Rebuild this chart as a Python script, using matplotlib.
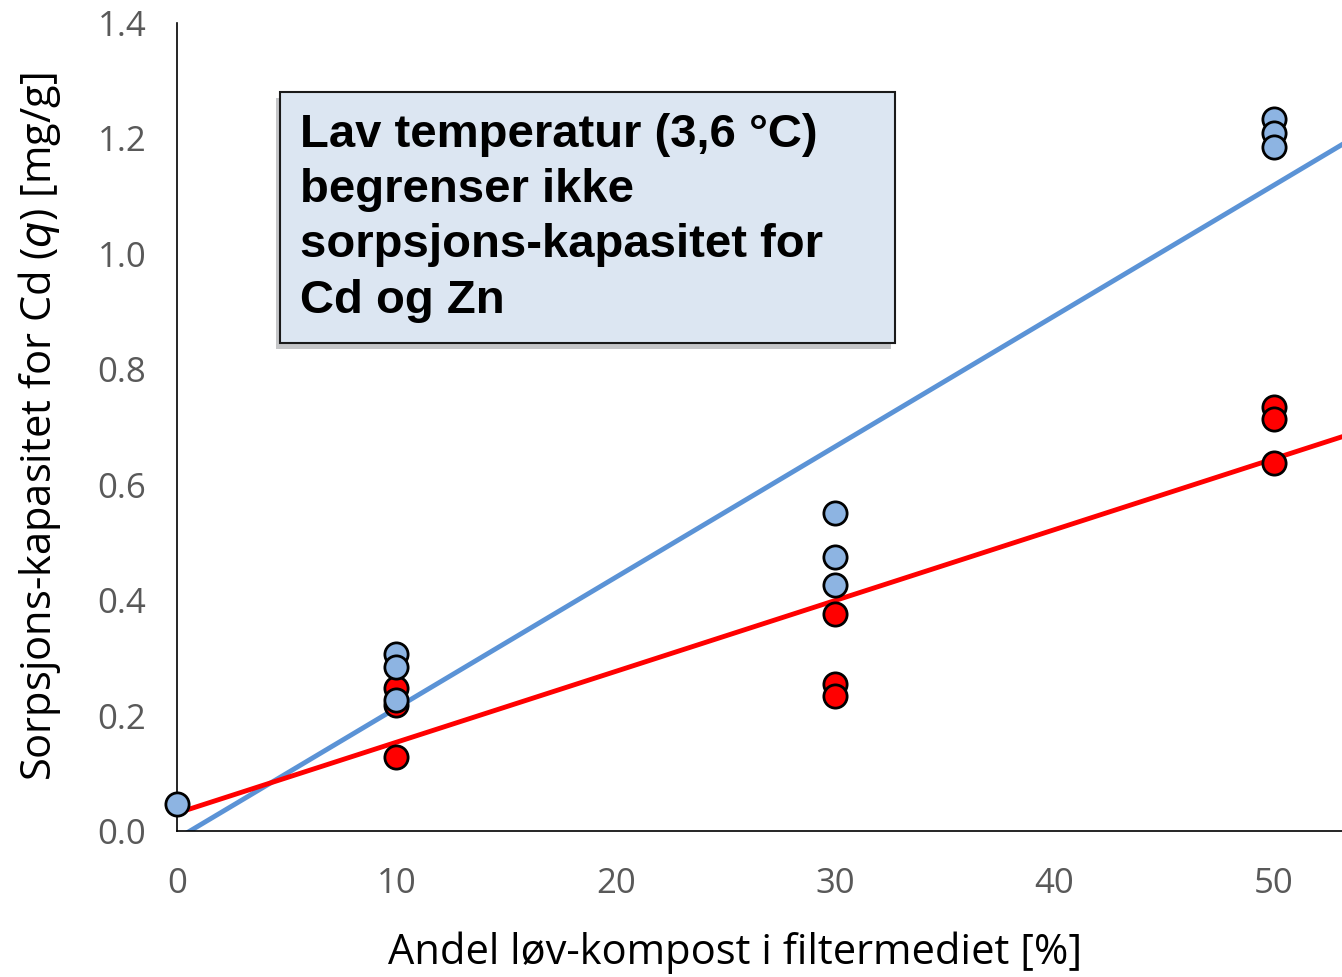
import numpy as np
import matplotlib.pyplot as plt
from matplotlib.patches import FancyBboxPatch
import matplotlib.patheffects as pe

# Sorption capacity (q, mg/g) vs share of leaf compost in the filter medium
cd_x = [0, 10, 10, 10, 30, 30, 30, 50, 50, 50]
cd_q = [0.047, 0.307, 0.284, 0.227, 0.551, 0.475, 0.426, 1.234, 1.210, 1.185]
zn_x = [10, 10, 10, 30, 30, 30, 50, 50, 50]
zn_q = [0.248, 0.218, 0.128, 0.376, 0.255, 0.234, 0.735, 0.714, 0.638]

# Linear trendlines (slope, intercept)
cd_fit = (0.02265, -0.0134)
zn_fit = (0.01228, 0.031)

xticks = [0, 10, 20, 30, 40, 50]
yticks = [0.0, 0.2, 0.4, 0.6, 0.8, 1.0, 1.2, 1.4]

blue = '#5b93d6'
blue_fill = '#8db4e2'
red = '#ff0000'

fig = plt.figure(figsize=(13.42, 9.77), dpi=100)
ax = fig.add_axes([177 / 1342, 1 - 831 / 977, 1 - 177 / 1342, (831 - 23) / 977])

xmax = 53.1
ax.set_xlim(0, xmax)
ax.set_ylim(0, 1.4)

xs = np.array([0, xmax])
ax.plot(xs, cd_fit[0] * xs + cd_fit[1], color=blue, lw=3.5, zorder=2)
ax.plot(xs, zn_fit[0] * xs + zn_fit[1], color=red, lw=3.5, zorder=2)

ax.scatter(zn_x, zn_q, s=280, color=red, edgecolor='black', linewidth=2,
           zorder=3, clip_on=False)
ax.scatter(cd_x, cd_q, s=280, color=blue_fill, edgecolor='black', linewidth=2,
           zorder=4, clip_on=False)

for side in ['top', 'right']:
    ax.spines[side].set_visible(False)
ax.spines['left'].set_linewidth(1.2)
ax.spines['bottom'].set_linewidth(1.2)

ax.set_xticks(xticks)
ax.set_yticks(yticks)
ax.set_yticklabels([f'{v:.1f}' for v in yticks])
ax.tick_params(length=0, labelsize=25, labelcolor='#595959')
for lab in ax.get_xticklabels() + ax.get_yticklabels():
    lab.set_fontfamily('Open Sans')
ax.tick_params(axis='x', pad=26)
ax.tick_params(axis='y', pad=22)

ax.set_xlabel('Andel løv-kompost i filtermediet [%]', fontsize=30,
              fontfamily='Open Sans', labelpad=22)
ax.xaxis.label.set_x(0.479)
ax.set_ylabel('Sorpsjons-kapasitet for Cd ($\\mathit{q}$) [mg/g]', fontsize=30,
              fontfamily='Open Sans', labelpad=25)

# Annotation box
box = FancyBboxPatch((280 / 1342, 1 - 343 / 977), (895 - 280) / 1342, (343 - 92) / 977,
                     boxstyle='square,pad=0', transform=fig.transFigure,
                     facecolor='#dce6f2', edgecolor='#1a1a1a', linewidth=1.5,
                     path_effects=[pe.SimplePatchShadow(offset=(-3, -4), alpha=0.3),
                                   pe.Normal()],
                     zorder=5)
fig.add_artist(box)
fig.text(300 / 1342, 1 - 113 / 977,
         'Lav temperatur (3,6 °C)\nbegrenser ikke\nsorpsjons-kapasitet for\nCd og Zn',
         fontsize=34, fontweight='bold', fontfamily='Liberation Sans',
         va='top', ha='left', linespacing=1.33, zorder=6)

fig.savefig('out.png', dpi=100)
